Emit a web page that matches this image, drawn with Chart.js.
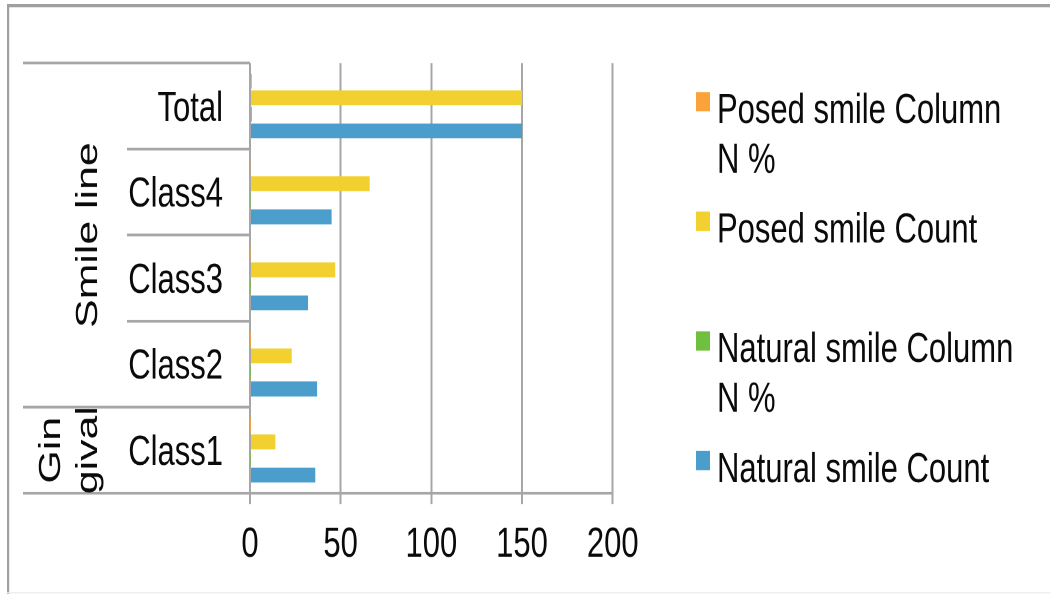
<!DOCTYPE html>
<html>
<head>
<meta charset="utf-8">
<script src="https://cdn.jsdelivr.net/npm/chart.js@4.4.1/dist/chart.umd.min.js"></script>
<style>
  html { overflow: hidden; }
  body { margin: 0; padding: 0; background: #fff; }
  #outer { width: 1050px; height: 594px; }
  /* the reference is a vertically stretched picture, so draw at 430px and stretch */
  #wrap { width: 1050px; height: 430px; transform: scaleY(1.3814); transform-origin: 0 0; }
</style>
</head>
<body>
<div id="outer"><div id="wrap"><canvas id="chart" width="1050" height="430"></canvas></div></div>
<script>
// ---- data ----
const categories = ['Total', 'Class4', 'Class3', 'Class2', 'Class1'];
const groups = [
  { lines: ['Smile line'], from: 0, to: 3 },
  { lines: ['Gin', 'gival'], from: 4, to: 4 },
];
const posedPct = [1, 0.44, 0.313, 0.153, 0.093];
const posedCount = [150, 66, 47, 23, 14];
const naturalPct = [1, 0.3, 0.213, 0.247, 0.24];
const naturalCount = [150, 45, 32, 37, 36];
const xTicks = [0, 50, 100, 150, 200];

const seriesLabels = ['Posed smile Column N %', 'Posed smile Count', 'Natural smile Column N %', 'Natural smile Count'];
const seriesColors = ['#f9a33a', '#f2d02f', '#70bf3f', '#4b9dcb'];
const seriesData = [posedPct, posedCount, naturalPct, naturalCount];

const FONT = '"Liberation Sans", Arial, Helvetica, sans-serif';
const GRID = '#a6a6a6';
const INK = '#0a0a0a';

// word wrap for the legend text
const wrap = (ctx, text, maxW) => {
  const out = [];
  let line = '';
  text.split(' ').forEach((w) => {
    const test = line ? `${line} ${w}` : w;
    if (line && ctx.measureText(test).width > maxW) { out.push(line); line = w; }
    else line = test;
  });
  if (line) out.push(line);
  return out;
};

// frame, category separators, group labels and legend
const decorPlugin = {
  id: 'decor',
  afterDraw(chart) {
    const { ctx, chartArea, scales: { y } } = chart;
    const step = y.getPixelForValue(1) - y.getPixelForValue(0);
    const edge = (i) => y.getPixelForValue(i) - step / 2;
    ctx.save();

    // outer frame
    ctx.fillStyle = '#a0a0a0';
    ctx.fillRect(7, 3, 1043, 2.2);
    ctx.fillRect(7, 3, 2.2, 427);
    ctx.fillStyle = '#ececec';
    ctx.fillRect(7, 428.6, 1043, 1);

    // separators between categories, longer at group edges
    const groupEdges = new Set();
    groups.forEach((g) => { groupEdges.add(g.from); groupEdges.add(g.to + 1); });
    ctx.strokeStyle = GRID;
    ctx.lineWidth = 2;
    for (let i = 0; i <= categories.length; i++) {
      const py = edge(i);
      ctx.beginPath();
      ctx.moveTo(groupEdges.has(i) ? 23 : 127, py);
      ctx.lineTo(chartArea.left, py);
      ctx.stroke();
    }

    // rotated group labels
    ctx.fillStyle = INK;
    ctx.font = `31px ${FONT}`;
    ctx.textAlign = 'center';
    ctx.textBaseline = 'alphabetic';
    groups.forEach((g) => {
      const cy = (edge(g.from) + edge(g.to + 1)) / 2;
      g.lines.forEach((line, k) => {
        const bx = 97 - (g.lines.length - 1 - k) * 37;
        ctx.save();
        ctx.translate(bx, cy);
        ctx.rotate(-Math.PI / 2);
        ctx.fillText(line, 0, 0);
        ctx.restore();
      });
    });

    // legend
    ctx.textAlign = 'left';
    seriesLabels.forEach((label, i) => {
      const base = 89 + i * 86.6;
      ctx.fillStyle = seriesColors[i];
      ctx.fillRect(696, base - 22.4, 14, 14);
      ctx.fillStyle = INK;
      wrap(ctx, label, 310).forEach((line, k) => ctx.fillText(line, 717, base + k * 36));
    });

    ctx.restore();
  },
};

new Chart(document.getElementById('chart'), {
  type: 'bar',
  data: {
    labels: categories,
    datasets: seriesLabels.map((label, i) => ({
      label,
      data: seriesData[i],
      backgroundColor: seriesColors[i],
      borderWidth: 0,
      categoryPercentage: 0.77,
      barPercentage: 0.9,
    })),
  },
  options: {
    indexAxis: 'y',
    responsive: false,
    animation: false,
    devicePixelRatio: 2,
    layout: { padding: { left: 0, top: 45, right: 437.3, bottom: 0 } },
    plugins: { legend: { display: false }, tooltip: { enabled: false } },
    scales: {
      x: {
        min: 0,
        max: 200,
        afterBuildTicks: (s) => { s.ticks = xTicks.map((v) => ({ value: v })); },
        afterFit: (s) => { s.height = 73; },
        grid: { color: GRID, lineWidth: 2, tickLength: 8, tickColor: GRID },
        border: { display: true, color: GRID, width: 2 },
        ticks: { color: INK, font: { family: FONT, size: 31 }, padding: 11, maxRotation: 0 },
      },
      y: {
        afterFit: (s) => { s.width = 250; },
        grid: { display: false, drawTicks: false },
        border: { display: false },
        ticks: { color: INK, font: { family: FONT, size: 31 }, padding: 27, labelOffset: 2 },
      },
    },
  },
  plugins: [decorPlugin],
});
</script>
</body>
</html>
